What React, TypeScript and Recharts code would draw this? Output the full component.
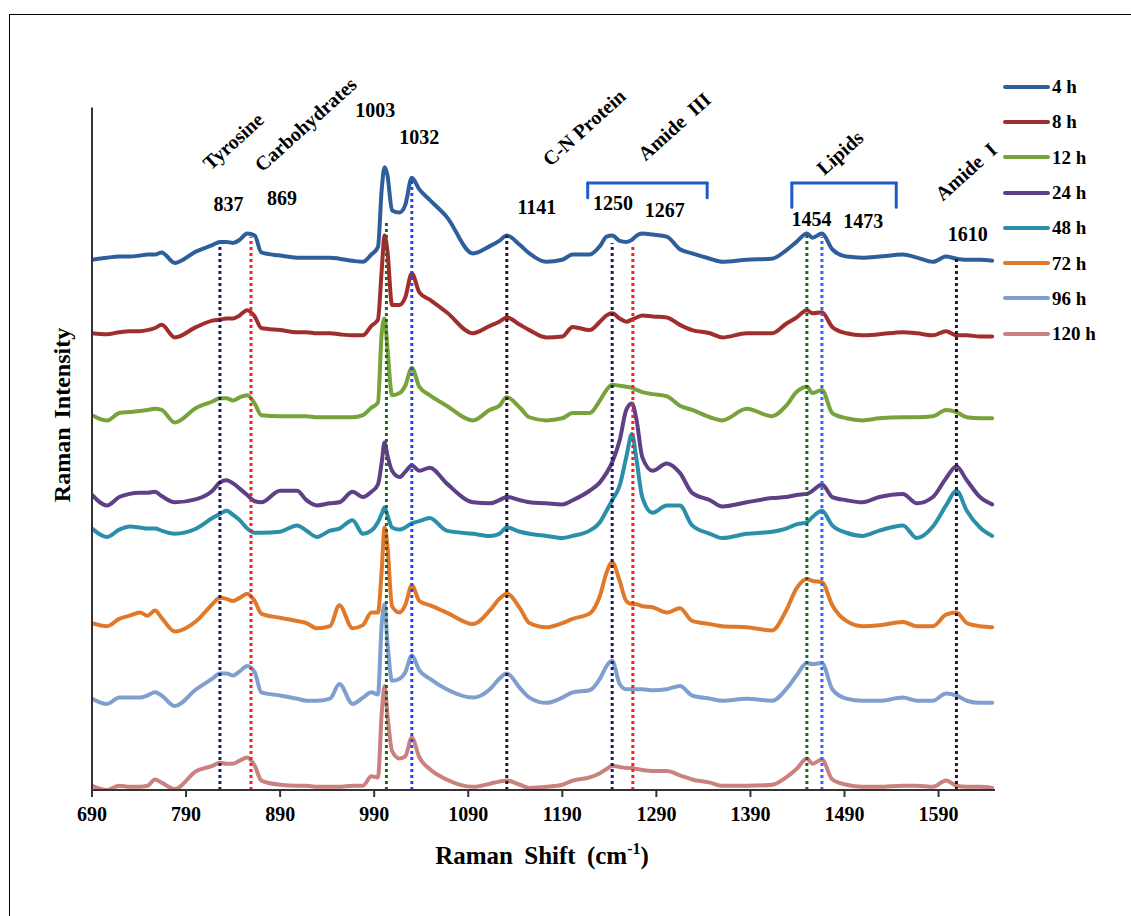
import { LineChart, Line, XAxis, YAxis, ReferenceLine, ReferenceDot } from "recharts";

const SERIF = '"Liberation Serif", "Times New Roman", serif';

// Raman shift (cm-1) sample positions, shared by every spectrum
const SHIFT = [
  690, 706, 719, 730, 741, 749, 757, 764, 778, 801,
  818, 826, 833, 840, 847, 855, 863, 870, 890, 908,
  918, 929, 943, 953, 967, 978, 987, 994, 998, 1001,
  1004, 1009, 1017, 1023, 1030, 1038, 1049, 1067, 1095, 1113,
  1123, 1131, 1145, 1155, 1173, 1190, 1201, 1219, 1230, 1237,
  1243, 1251, 1258, 1264, 1269, 1275, 1286, 1301, 1315, 1328,
  1347, 1360, 1386, 1413, 1428, 1439, 1450, 1456, 1466, 1477,
  1492, 1509, 1527, 1552, 1567, 1584, 1598, 1609, 1620, 1634, 1647,
];

// stacked intensities (a.u.), one array per incubation time
const H4 = [
  505, 507, 508, 508, 509, 510, 510, 512, 502, 513,
  519, 522, 522, 521, 524, 530, 528, 512, 509, 507,
  507, 507, 507, 506, 504, 503, 510, 517, 572, 593,
  586, 552, 550, 557, 583, 572, 562, 546, 511, 518,
  523, 528, 519, 511, 503, 505, 510, 510, 518, 527,
  528, 523, 522, 524, 528, 530, 529, 527, 515, 511,
  506, 503, 505, 506, 514, 522, 530, 526, 530, 515,
  508, 507, 508, 510, 507, 503, 508, 506, 505, 505, 504,
];
const H8 = [
  435, 434, 436, 437, 437, 438, 440, 443, 431, 441,
  447, 448, 449, 449, 452, 457, 451, 440, 438, 436,
  436, 435, 435, 434, 433, 433, 442, 448, 495, 528,
  514, 462, 462, 469, 492, 474, 467, 455, 435, 442,
  446, 450, 443, 438, 431, 432, 441, 438, 446, 452,
  454, 449, 446, 448, 450, 452, 451, 450, 443, 438,
  435, 431, 435, 435, 444, 450, 457, 454, 455, 441,
  435, 433, 434, 436, 435, 433, 437, 433, 433, 432, 432,
];
const H12 = [
  357, 352, 359, 360, 361, 362, 363, 362, 350, 364,
  370, 373, 373, 371, 374, 376, 368, 357, 356, 356,
  356, 355, 355, 355, 355, 357, 364, 369, 435, 449,
  422, 376, 378, 385, 402, 384, 376, 366, 352, 362,
  366, 374, 364, 355, 352, 354, 359, 359, 371, 381,
  386, 385, 384, 383, 381, 379, 377, 375, 366, 362,
  355, 352, 363, 356, 366, 379, 384, 378, 381, 359,
  354, 352, 354, 355, 355, 356, 362, 360, 355, 354, 354,
];
const H24 = [
  281, 271, 279, 282, 283, 283, 284, 280, 274, 277,
  285, 293, 295, 292, 287, 281, 275, 274, 285, 285,
  276, 271, 273, 274, 284, 279, 284, 291, 312, 331,
  319, 304, 298, 303, 309, 304, 307, 292, 274, 273,
  276, 279, 276, 274, 273, 272, 276, 285, 293, 302,
  312, 333, 362, 368, 352, 317, 304, 311, 302, 283,
  276, 270, 274, 278, 279, 281, 282, 285, 291, 279,
  276, 274, 279, 282, 273, 279, 297, 308, 295, 279, 272,
];
const H48 = [
  249, 241, 248, 251, 250, 249, 249, 247, 244, 249,
  259, 263, 266, 262, 257, 249, 245, 245, 246, 252,
  247, 241, 247, 249, 257, 244, 247, 255, 263, 269,
  262, 250, 248, 250, 254, 256, 259, 247, 244, 242,
  244, 250, 246, 244, 242, 240, 242, 247, 255, 266,
  276, 290, 317, 339, 314, 279, 264, 271, 271, 252,
  244, 240, 244, 246, 249, 253, 255, 260, 266, 252,
  245, 242, 247, 252, 240, 251, 271, 285, 266, 250, 242,
];
const H72 = [
  159, 156, 163, 166, 169, 166, 171, 164, 151, 161,
  177, 183, 182, 180, 183, 187, 180, 168, 164, 161,
  159, 154, 156, 176, 154, 157, 169, 169, 209, 250,
  233, 175, 169, 176, 195, 180, 176, 169, 158, 171,
  182, 187, 173, 159, 155, 159, 163, 168, 185, 207,
  217, 199, 180, 177, 177, 175, 174, 169, 173, 161,
  158, 156, 155, 152, 171, 192, 201, 199, 198, 176,
  161, 156, 157, 160, 156, 156, 167, 169, 159, 156, 155,
];
const H96 = [
  87, 82, 88, 88, 88, 90, 93, 90, 80, 96,
  106, 111, 111, 109, 113, 118, 112, 93, 90, 87,
  85, 85, 87, 101, 82, 88, 93, 91, 158, 177,
  142, 104, 106, 112, 128, 114, 106, 96, 88, 96,
  106, 111, 97, 88, 83, 88, 93, 95, 106, 118,
  123, 101, 96, 96, 96, 96, 95, 96, 99, 90,
  87, 85, 87, 85, 96, 109, 121, 120, 121, 96,
  87, 85, 85, 88, 85, 85, 92, 90, 85, 83, 83,
];
const H120 = [
  4, 0, 4, 3, 3, 4, 10, 7, 1, 18,
  23, 26, 25, 25, 28, 31, 23, 9, 5, 4,
  4, 3, 3, 3, 4, 4, 13, 12, 73, 99,
  73, 37, 30, 32, 50, 31, 20, 10, 3, 6,
  8, 9, 5, 2, 3, 5, 9, 12, 16, 20,
  23, 22, 21, 21, 20, 19, 18, 18, 14, 10,
  7, 4, 4, 5, 12, 20, 30, 25, 29, 10,
  5, 3, 3, 4, 4, 3, 9, 4, 3, 3, 2,
];

const X_TICKS = [690, 790, 890, 990, 1090, 1190, 1290, 1390, 1490, 1590];
const Y_TICKS = [0, 100, 200, 300, 400, 500, 600];

// dotted assignment lines: where they sit on the axis and how high they reach
const MARK_X = [826, 859, 1003, 1030, 1131, 1243, 1265, 1450, 1466, 1609];
const MARK_TOP = [520, 527, 540, 581, 528, 521, 519, 530, 527, 507];

const PEAK_LABELS = ["837", "869", "1003", "1032", "1141", "1250", "1267", "1454", "1473", "1610"];
const PEAK_X = [835, 892, 991, 1038, 1163, 1244, 1299, 1455, 1510, 1621];
const PEAK_Y = [558, 564, 648, 622, 555, 559, 552, 544, 542, 530];

const BAND_LABELS = ["Tyrosine", "Carbohydrates", "C-N Protein", "Amide\u00a0 III", "Lipids", "Amide\u00a0 I"];
const BAND_X = [840, 917, 1213, 1309, 1485, 1619];
const BAND_Y = [618, 634, 631, 632, 607, 589];

// brackets over Amide III and Lipids regions
const BRACKET_FROM = [1217, 1434];
const BRACKET_TO = [1344, 1545];
const BRACKET_TOP = [578, 578];
const BRACKET_FOOT = [564, 555];

const MARK_COLORS = ["#1b1b6e", "#ff1f1f", "#1c6b1c", "#2347f0", "#2a1433", "#1b1b6e", "#ff1f1f", "#1c6b1c", "#3366ff", "#2a1433"];

const SERIES = [
  { key: "h4", name: "4 h", color: "#2e5f9c", values: H4 },
  { key: "h8", name: "8 h", color: "#a02e2c", values: H8 },
  { key: "h12", name: "12 h", color: "#77a23c", values: H12 },
  { key: "h24", name: "24 h", color: "#5f3f86", values: H24 },
  { key: "h48", name: "48 h", color: "#2a8fa8", values: H48 },
  { key: "h72", name: "72 h", color: "#e07a2a", values: H72 },
  { key: "h96", name: "96 h", color: "#7f9fcf", values: H96 },
  { key: "h120", name: "120 h", color: "#c9827f", values: H120 },
];

const data = SHIFT.map((shift, i) => {
  const row: Record<string, number> = { shift };
  SERIES.forEach((s) => (row[s.key] = s.values[i]));
  return row;
});

const textStyle = { fontFamily: SERIF, fontWeight: 700, fontSize: 20, fill: "#000" };

export default function App() {
  return (
    <div style={{ position: "absolute", left: 0, top: 0, width: 1131, height: 916, background: "#fff", overflow: "hidden" }}>
      <div style={{ position: "absolute", left: 9, top: 14, width: 1200, height: 1000, borderLeft: "1.5px solid #000", borderTop: "1.5px solid #000" }} />
      <LineChart width={1131} height={916} data={data} margin={{ top: 107.5, right: 136, bottom: 96, left: 82 }}>
        <XAxis
          type="number"
          dataKey="shift"
          domain={[690, 1650]}
          ticks={X_TICKS}
          interval={0}
          allowDataOverflow
          height={30}
          axisLine={{ stroke: "#333", strokeWidth: 2 }}
          tickLine={{ stroke: "#333", strokeWidth: 2 }}
          tickSize={7}
          tickMargin={10}
          tick={textStyle}
        />
        <YAxis
          type="number"
          domain={[0, 650]}
          ticks={Y_TICKS}
          width={10}
          allowDataOverflow
          axisLine={{ stroke: "#333", strokeWidth: 2 }}
          tickLine={{ stroke: "#333", strokeWidth: 2 }}
          tickSize={7}
          tick={false}
        />
        {SERIES.map((s) => (
          <Line
            key={s.key}
            type="monotone"
            dataKey={s.key}
            stroke={s.color}
            strokeWidth={4}
            strokeLinejoin="round"
            strokeLinecap="round"
            dot={false}
            activeDot={false}
            isAnimationActive={false}
          />
        ))}
        {MARK_X.map((x, i) => (
          <ReferenceLine
            key={"m" + i}
            segment={[{ x, y: 0 }, { x, y: MARK_TOP[i] }]}
            stroke={MARK_COLORS[i]}
            strokeWidth={3}
            strokeDasharray="3 3"
          />
        ))}
        {BRACKET_FROM.map((from, i) => [
          <ReferenceLine key={"bl" + i} segment={[{ x: from, y: BRACKET_FOOT[i] }, { x: from, y: BRACKET_TOP[i] }]} stroke="#1f5bc8" strokeWidth={3} strokeLinecap="round" />,
          <ReferenceLine key={"bt" + i} segment={[{ x: from, y: BRACKET_TOP[i] }, { x: BRACKET_TO[i], y: BRACKET_TOP[i] }]} stroke="#1f5bc8" strokeWidth={3} strokeLinecap="round" />,
          <ReferenceLine key={"br" + i} segment={[{ x: BRACKET_TO[i], y: BRACKET_TOP[i] }, { x: BRACKET_TO[i], y: BRACKET_FOOT[i] }]} stroke="#1f5bc8" strokeWidth={3} strokeLinecap="round" />,
        ])}
        {PEAK_LABELS.map((label, i) => (
          <ReferenceDot
            key={"p" + i}
            x={PEAK_X[i]}
            y={PEAK_Y[i]}
            r={1}
            shape={(p: any) => (
              <text x={p.cx} y={p.cy} textAnchor="middle" dominantBaseline="central" style={textStyle}>
                {label}
              </text>
            )}
          />
        ))}
        {BAND_LABELS.map((label, i) => (
          <ReferenceDot
            key={"b" + i}
            x={BAND_X[i]}
            y={BAND_Y[i]}
            r={1}
            shape={(p: any) => (
              <text
                x={p.cx}
                y={p.cy}
                textAnchor="middle"
                dominantBaseline="central"
                transform={`rotate(-42 ${p.cx} ${p.cy})`}
                style={textStyle}
              >
                {label}
              </text>
            )}
          />
        ))}
      </LineChart>

      <div
        style={{
          position: "absolute",
          left: 62,
          top: 415,
          transform: "translate(-50%, -50%) rotate(-90deg)",
          fontFamily: SERIF,
          fontWeight: 700,
          fontSize: 24,
          whiteSpace: "nowrap",
          wordSpacing: 3,
        }}
      >
        Raman Intensity
      </div>
      <div
        style={{
          position: "absolute",
          left: 542,
          top: 856,
          transform: "translate(-50%, -50%)",
          fontFamily: SERIF,
          fontWeight: 700,
          fontSize: 25,
          whiteSpace: "nowrap",
          wordSpacing: 5,
        }}
      >
        Raman Shift (cm<span style={{ fontSize: 16, position: "relative", top: -10 }}>-1</span>)
      </div>

      <div style={{ position: "absolute", left: 1003, top: 69 }}>
        {SERIES.map((s) => (
          <div key={s.key} style={{ display: "flex", alignItems: "center", height: 35.3 }}>
            <span style={{ display: "inline-block", width: 47, height: 4, borderRadius: 2, background: s.color }} />
            <span style={{ marginLeft: 2, fontFamily: SERIF, fontWeight: 700, fontSize: 19, lineHeight: 1 }}>{s.name}</span>
          </div>
        ))}
      </div>
    </div>
  );
}
